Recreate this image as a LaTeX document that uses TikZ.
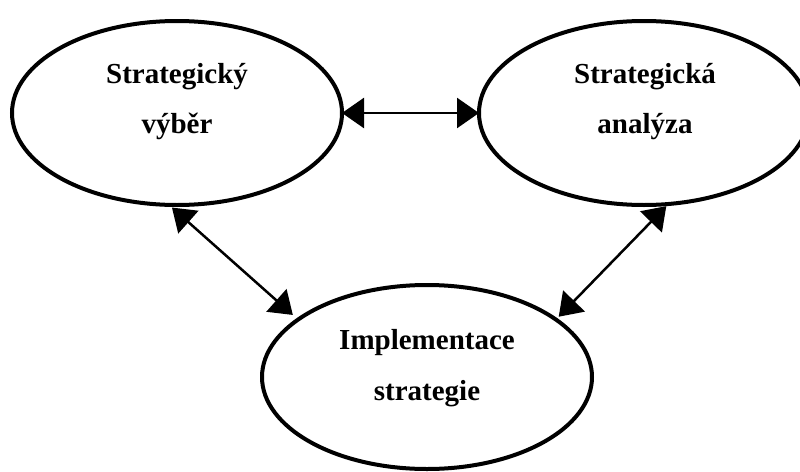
\documentclass[tikz,border=0pt]{standalone}
\usepackage{fontspec}
\setmainfont{Liberation Serif}
\usetikzlibrary{arrows.meta,shapes.geometric}
\begin{document}
\begin{tikzpicture}[x=1pt,y=-1pt,
  oval/.style={draw, ellipse, line width=4pt, minimum width=330pt,
    minimum height=184pt, inner sep=0pt, outer sep=0pt},
  caption/.style={anchor=base, inner sep=0pt,
    font=\fontsize{29}{35}\selectfont\bfseries},
  link/.style={line width=2.5pt,
    {Triangle[length=22pt,width=30pt]}-{Triangle[length=22pt,width=30pt]}}]
\clip (0,0) rectangle (800,471);

% the three stages
\node[oval] (vyber) at (177,113) {};
\node[oval] (analyza) at (644,113) {};
\node[oval] (impl) at (427,377) {};

% stage names
\node[caption] (t1) at (177,83) {Strategický};
\node[caption] (t2) at (177,133) {výběr};
\node[caption] (t3) at (645,83) {Strategická};
\node[caption] (t4) at (645,133) {analýza};
\node[caption] (t5) at (427,349) {Implementace};
\node[caption] (t6) at (427,400) {strategie};

% two-way links between the stages
\draw[link] (vyber.east) -- (analyza.west);
\draw[link, shorten <=4pt, shorten >=7pt] (vyber.265) -- (impl.156);
\draw[link, shorten <=3pt, shorten >=4pt] (analyza.285.6) -- (impl.24.4);
\end{tikzpicture}
\end{document}
